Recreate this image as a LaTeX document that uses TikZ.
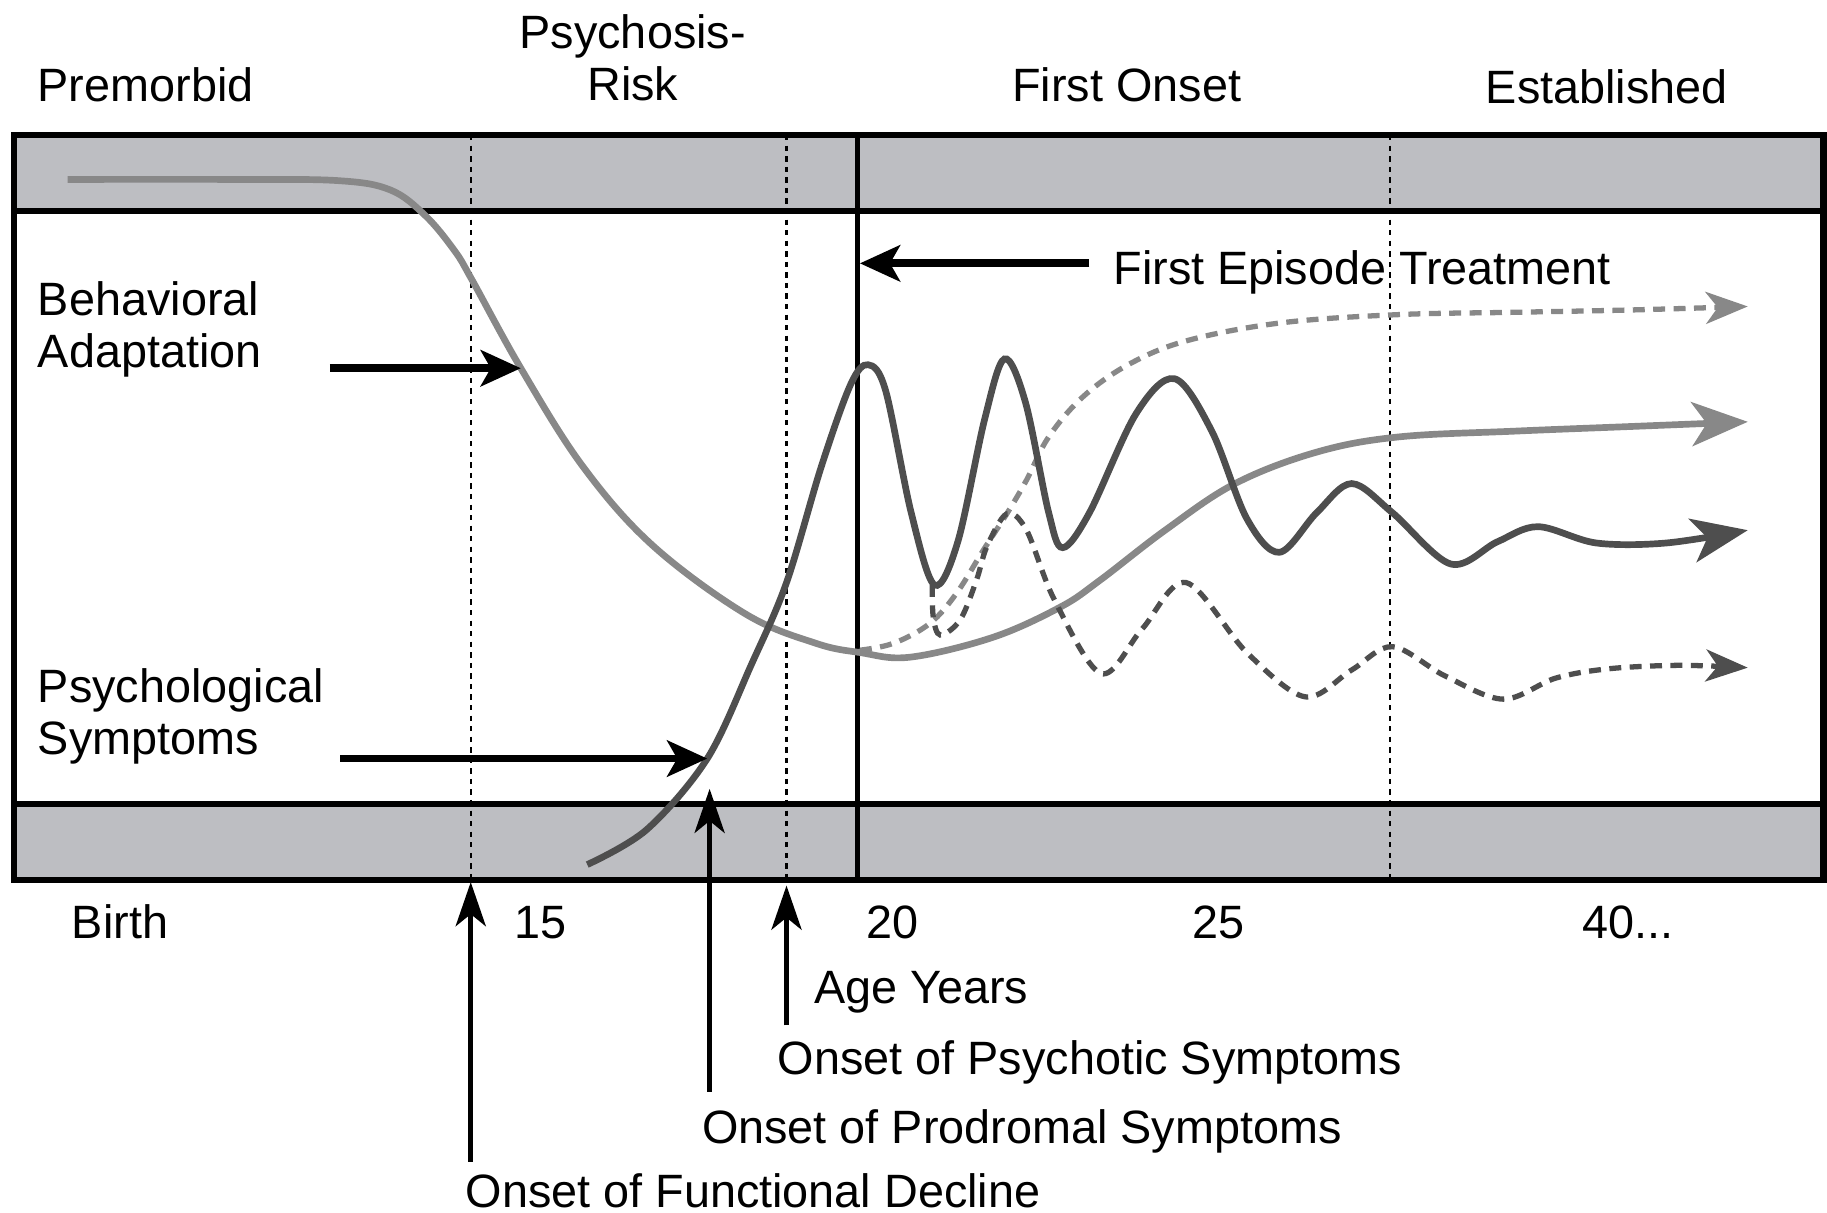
\documentclass[tikz,border=0pt]{standalone}
\usepackage{fontspec}
\setmainfont{Liberation Sans}
\usetikzlibrary{arrows.meta, positioning}

\definecolor{bandgray}{RGB}{189,190,194}
\definecolor{lightcurve}{RGB}{136,136,136}
\definecolor{darkcurve}{RGB}{78,78,78}

\begin{document}
\begin{tikzpicture}[x=0.01165cm, y=-0.01165cm,
  lbl/.style={font=\fontsize{13.3}{14.8}\selectfont, inner sep=0pt},
  dots/.style={line width=0.7pt, dash pattern=on 1.5pt off 1.5pt},
  pointer/.style={line width=2.2pt, -{Stealth[length=0.4cm, width=0.36cm, inset=0.1cm]}},
  uparrow/.style={line width=1.5pt, -{Stealth[length=0.44cm, width=0.3cm, inset=0.12cm]}},
  trend/.style={line width=1.9pt, -{Stealth[length=0.56cm, width=0.44cm, inset=0.15cm]}},
  dtrend/.style={line width=1.5pt, dash pattern=on 3.4pt off 2.4pt, -{Stealth[length=0.42cm, width=0.32cm, inset=0.12cm]}}]
\useasboundingbox (0,0) rectangle (1568,1041);
%Bands:
\fill[bandgray] (12,116) rectangle (1565,181);
\fill[bandgray] (12,690) rectangle (1565,755);
\foreach \xx in {404,675,1193}
  \draw[dots] (\xx,116) -- (\xx,755);
\draw[line width=1.5pt] (736,116) -- (736,755);
\draw[line width=1.8pt] (12,116) rectangle (1565,755);
\draw[line width=1.8pt] (12,181) -- (1565,181) (12,690) -- (1565,690);
%Curves:
\draw[trend, lightcurve] plot[smooth, tension=0.6] coordinates {(58,154) (200,154) (290,155) (335,163) (365,185) (390,215) (405,240) (447,316) (500,400) (560,468) (640,527) (700,552) (738,560) (781,564) (852,547) (910,521) (944,498) (1000,455) (1060,415) (1130,388) (1200,375) (1300,370) (1400,366) (1500,362)};
\draw[dtrend, lightcurve] plot[smooth, tension=0.6] coordinates {(738,558) (767,552) (798,535) (821,509) (844,472) (864,441) (881,412) (900,375) (930,340) (970,312) (1020,292) (1100,277) (1200,270) (1300,268) (1400,266) (1500,263)};
\draw[dtrend, darkcurve] plot[smooth, tension=0.55] coordinates {(800,502) (801,530) (807,545) (824,532) (838,498) (847,469) (864,441) (881,455) (905,515) (945,578) (980,540) (1018,500) (1070,560) (1120,598) (1160,575) (1195,555) (1240,580) (1290,600) (1335,582) (1380,574) (1440,571) (1500,573)};
\draw[trend, darkcurve] plot[smooth, tension=0.55] coordinates {(504,742) (555,712) (607,651) (645,570) (675,500) (705,400) (730,330) (745,313) (760,335) (782,440) (802,502) (822,465) (845,360) (862,308) (880,345) (900,440) (912,470) (935,440) (975,355) (1008,325) (1040,370) (1070,445) (1098,474) (1130,440) (1160,415) (1195,440) (1245,484) (1285,465) (1320,452) (1370,466) (1430,466) (1500,455)};
%Labels:
\node (premorbid) [lbl, anchor=base] at (125,87) {Premorbid};
\node (risk) [lbl, anchor=north, align=center] at (543,12) {Psychosis-\\Risk};
\node (onset) [lbl, anchor=base] at (967,87) {First Onset};
\node (established) [lbl, anchor=base] at (1379,89) {Established};
\node (adapt) [lbl, anchor=north west, align=left] at (32,241) {Behavioral\\Adaptation};
\node (psych) [lbl, anchor=north west, align=left] at (32,573) {Psychological\\Symptoms};
\node (treat) [lbl, anchor=base west] at (955,244) {First Episode Treatment};
\node (birth) [lbl, anchor=base] at (103,805) {Birth};
\node (age15) [lbl, anchor=base] at (464,805) {15};
\node (age20) [lbl, anchor=base] at (766,805) {20};
\node (age25) [lbl, anchor=base] at (1046,805) {25};
\node (age40) [lbl, anchor=base] at (1397,805) {40...};
\node (years) [lbl, anchor=base west] at (698,861) {Age Years};
\node (psychotic) [lbl, anchor=base west] at (667,922) {Onset of Psychotic Symptoms};
\node (prodromal) [lbl, anchor=base west] at (602,981) {Onset of Prodromal Symptoms};
\node (decline) [lbl, anchor=base west] at (399,1036) {Onset of Functional Decline};
%Pointers:
\coordinate (adaptTail) at (283,316);
\coordinate (adaptHead) at (447,316);
\coordinate (psychTail) at (292,651);
\coordinate (psychHead) at (607,651);
\coordinate (treatTail) at (935,226);
\coordinate (treatHead) at (738,226);
\coordinate (declineTail) at (404,997);
\coordinate (declineHead) at (404,757);
\coordinate (prodromalTail) at (609,937);
\coordinate (prodromalHead) at (609,677);
\coordinate (psychoticTail) at (675,880);
\coordinate (psychoticHead) at (675,760);
\path [pointer]
(adaptTail) edge (adaptHead)
(psychTail) edge (psychHead)
(treatTail) edge (treatHead)
;
\path [uparrow]
(declineTail) edge (declineHead)
(prodromalTail) edge (prodromalHead)
(psychoticTail) edge (psychoticHead)
;
\end{tikzpicture}
\end{document}
